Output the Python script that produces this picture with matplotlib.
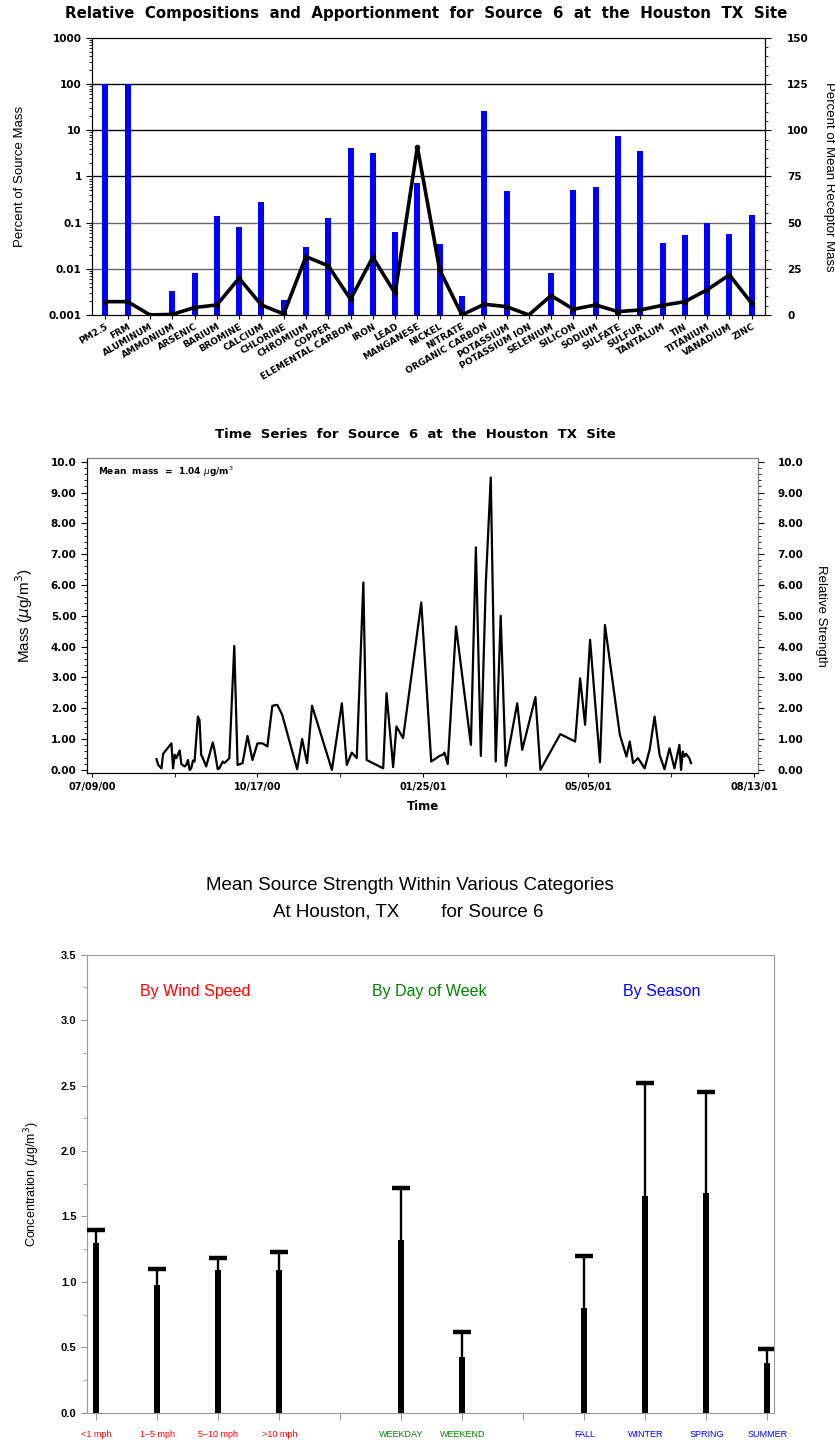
import numpy as np
import pandas as pd
import matplotlib
matplotlib.use('Agg')
import matplotlib.pyplot as plt
from matplotlib.ticker import MultipleLocator, LogLocator, NullFormatter, FuncFormatter, FixedLocator

# ---- panel 1: source profile ----
species = ['PM2.5', 'FRM', 'ALUMINUM', 'AMMONIUM', 'ARSENIC', 'BARIUM', 'BROMINE',
           'CALCIUM', 'CHLORINE', 'CHROMIUM', 'COPPER', 'ELEMENTAL CARBON', 'IRON',
           'LEAD', 'MANGANESE', 'NICKEL', 'NITRATE', 'ORGANIC CARBON', 'POTASSIUM',
           'POTASSIUM ION', 'SELENIUM', 'SILICON', 'SODIUM', 'SULFATE', 'SULFUR',
           'TANTALUM', 'TIN', 'TITANIUM', 'VANADIUM', 'ZINC']
pct_source_mass = [100, 100, 0, 0.0023, 0.0073, 0.135, 0.078, 0.285, 0.0011, 0.028,
                   0.128, 4.07, 3.2, 0.062, 0.73, 0.033, 0.0016, 25.9, 0.49, 0,
                   0.0071, 0.51, 0.60, 7.5, 3.57, 0.036, 0.054, 0.097, 0.057, 0.147]
pct_receptor_mass = [7.2, 7.2, 0, 0.3, 4.0, 5.4, 19.9, 5.4, 0.5, 31.6,
                     26.6, 8.5, 31.3, 11.7, 90.9, 24.4, 0, 5.8, 4.5, 0,
                     10.5, 3.1, 5.4, 1.8, 2.7, 5.2, 7.2, 13.6, 21.7, 6.3]

# ---- panel 2: time series ----
ts_dates = ['2000-08-17', '2000-08-18', '2000-08-20', '2000-08-21', '2000-08-26', '2000-08-27',
            '2000-08-28', '2000-08-29', '2000-08-31', '2000-09-01', '2000-09-03', '2000-09-04',
            '2000-09-05', '2000-09-06', '2000-09-07', '2000-09-08', '2000-09-09', '2000-09-11',
            '2000-09-12', '2000-09-13', '2000-09-14', '2000-09-16', '2000-09-18', '2000-09-20',
            '2000-09-21', '2000-09-23', '2000-09-24', '2000-09-26', '2000-09-27', '2000-09-29',
            '2000-09-30', '2000-10-03', '2000-10-05', '2000-10-08', '2000-10-11', '2000-10-14',
            '2000-10-17', '2000-10-20', '2000-10-23', '2000-10-26', '2000-10-29', '2000-11-01',
            '2000-11-10', '2000-11-13', '2000-11-16', '2000-11-19', '2000-12-01', '2000-12-07',
            '2000-12-10', '2000-12-13', '2000-12-16', '2000-12-20', '2000-12-22', '2001-01-01',
            '2001-01-03', '2001-01-07', '2001-01-09', '2001-01-13', '2001-01-24', '2001-01-30',
            '2001-02-04', '2001-02-06', '2001-02-07', '2001-02-09', '2001-02-14', '2001-02-23',
            '2001-02-26', '2001-03-01', '2001-03-04', '2001-03-07', '2001-03-10', '2001-03-13',
            '2001-03-16', '2001-03-23', '2001-03-26', '2001-04-03', '2001-04-06', '2001-04-18',
            '2001-04-27', '2001-04-30', '2001-05-03', '2001-05-06', '2001-05-12', '2001-05-15',
            '2001-05-24', '2001-05-28', '2001-05-30', '2001-06-01', '2001-06-04', '2001-06-08',
            '2001-06-11', '2001-06-14', '2001-06-17', '2001-06-20', '2001-06-23', '2001-06-26',
            '2001-06-29', '2001-06-30', '2001-07-01', '2001-07-02', '2001-07-03', '2001-07-05',
            '2001-07-06']
ts_mass = [0.35, 0.16, 0.05, 0.52, 0.86, 0.05, 0.49, 0.38, 0.63, 0.19, 0.11, 0.16,
           0.32, 0.0, 0.05, 0.30, 0.27, 1.73, 1.62, 0.49, 0.38, 0.11, 0.49, 0.89,
           0.65, 0.02, 0.05, 0.27, 0.22, 0.32, 0.38, 4.02, 0.16, 0.22, 1.10, 0.32,
           0.86, 0.86, 0.76, 2.08, 2.11, 1.78, 0.02, 1.0, 0.22, 2.08, 0.0, 2.16,
           0.16, 0.56, 0.38, 6.08, 0.32, 0.05, 2.49, 0.09, 1.41, 1.03, 5.43, 0.27,
           0.45, 0.49, 0.56, 0.19, 4.65, 0.81, 7.22, 0.45, 6.05, 9.49, 0.27, 5.0,
           0.13, 2.16, 0.65, 2.36, 0.0, 1.16, 0.92, 2.97, 1.46, 4.22, 0.25, 4.70,
           1.14, 0.43, 0.92, 0.22, 0.38, 0.05, 0.65, 1.73, 0.49, 0.02, 0.70, 0.05,
           0.81, 0.0, 0.59, 0.43, 0.52, 0.38, 0.22]
mean_mass = 1.04
ts_tick_dates = ['2000-07-09', '2000-10-17', '2001-01-25', '2001-05-05', '2001-08-13']

# ---- panel 3: category means ----
wind_labels = ['<1 mph', '1\u20135 mph', '5\u201310 mph', '>10 mph']
wind_mean = [1.30, 0.98, 1.09, 1.09]
wind_upper = [1.40, 1.10, 1.18, 1.23]
dow_labels = ['WEEKDAY', 'WEEKEND']
dow_mean = [1.32, 0.43]
dow_upper = [1.72, 0.62]
season_labels = ['FALL', 'WINTER', 'SPRING', 'SUMMER']
season_mean = [0.80, 1.66, 1.68, 0.38]
season_upper = [1.20, 2.52, 2.45, 0.49]

BOLD = dict(family='DejaVu Sans', weight='bold')
NARROW = 'Liberation Sans'

fig = plt.figure(figsize=(8.35, 14.48), dpi=100)

# =============== top panel ===============
ax = fig.add_axes([0.1102, 0.7825, 0.806, 0.1913])
x = np.arange(len(species))
src = np.array(pct_source_mass, dtype=float)
keep = src > 0
ax.set_yscale('log')
ax.set_ylim(1e-3, 1e3)
ax.set_xlim(-0.6, len(species) - 0.4)
for v, c in zip([1e2, 1e1, 1e0, 1e-1, 1e-2], ['black', 'black', 'black', '0.4', '0.4']):
    ax.axhline(v, color=c, lw=1, zorder=1)
ax.bar(x[keep], src[keep], width=0.27, color='#0000ff', zorder=2, bottom=1e-3)
ax.set_yticks([1e-3, 1e-2, 1e-1, 1, 10, 100, 1000])
ax.set_yticklabels(['0.001', '0.01', '0.1', '1', '10', '100', '1000'], fontsize=7.5, **BOLD)
ax.yaxis.set_minor_locator(LogLocator(base=10, subs=np.arange(2, 10)))
ax.yaxis.set_minor_formatter(NullFormatter())
ax.set_xticks(x)
ax.set_xticklabels(species, rotation=30, ha='right', va='top', rotation_mode='anchor',
                   fontsize=6.5, **BOLD)
ax.tick_params(axis='x', length=3, pad=2)
ax.tick_params(axis='y', which='major', length=4, direction='out')
ax.tick_params(axis='y', which='minor', length=2, direction='out')
ax.set_ylabel('Percent of Source Mass', family=NARROW, fontsize=9.5, labelpad=16)

ax2 = ax.twinx()
ax2.plot(x, pct_receptor_mass, color='black', lw=2.6, marker='o', ms=3,
         solid_joinstyle='round', zorder=3)
ax2.set_ylim(0, 150)
ax2.set_yticks(np.arange(0, 151, 25))
ax2.set_yticklabels([str(v) for v in range(0, 151, 25)], fontsize=7.5, **BOLD)
ax2.yaxis.set_minor_locator(MultipleLocator(5))
ax2.tick_params(axis='y', which='major', length=4, pad=12)
ax2.tick_params(axis='y', which='minor', length=2)
ax2.set_ylabel('Percent of Mean Receptor Mass', family=NARROW, fontsize=9.5,
               rotation=270, labelpad=19)
fig.text(0.51, 0.9905, 'Relative  Compositions  and  Apportionment  for  Source  6  at  the  Houston  TX  Site',
         ha='center', va='center', fontsize=10.8, **BOLD)

# =============== middle panel ===============
axm = fig.add_axes([0.1042, 0.4662, 0.8036, 0.2175])
dates = pd.to_datetime(ts_dates)
axm.plot(dates, ts_mass, color='black', lw=1.6)
tick_dates = pd.to_datetime(ts_tick_dates)
axm.set_xlim(tick_dates[0] - pd.Timedelta(days=3), tick_dates[-1] + pd.Timedelta(days=2.5))
axm.set_ylim(-0.1, 10.12)
axm.set_xticks(tick_dates)
axm.set_xticklabels([d.strftime('%m/%d/%y') for d in tick_dates], fontsize=7, **BOLD)
axm.xaxis.set_minor_locator(FixedLocator(
    [matplotlib.dates.date2num(d + pd.Timedelta(days=50)) for d in tick_dates[:-1]]))
yfmt = FuncFormatter(lambda v, p: '10.0' if v >= 10 else '%.2f' % v)
axm.set_yticks(np.arange(0, 10.01, 1))
axm.yaxis.set_major_formatter(yfmt)
axm.yaxis.set_minor_locator(MultipleLocator(0.2))
for lab in axm.get_yticklabels():
    lab.set_fontsize(7.5)
    lab.set_fontweight('bold')
    lab.set_family('DejaVu Sans')
axm.tick_params(axis='y', which='major', length=4)
axm.tick_params(axis='y', which='minor', length=2)
axm.tick_params(axis='x', which='both', length=3)
for s in ['top', 'right']:
    axm.spines[s].set_color('0.5')
axm.set_ylabel('Mass ($\\mu$g/m$^3$)', family=NARROW, fontsize=11, labelpad=11)
axm.set_xlabel('Time', fontsize=8.5, labelpad=6, **BOLD)
axm.text(0.017, 0.955, 'Mean  mass  =  %.2f $\\mu$g/m$^3$' % mean_mass, transform=axm.transAxes,
         fontsize=6.5, va='center', ha='left', **BOLD)

axm2 = axm.twinx()
axm2.set_ylim(axm.get_ylim())
axm2.set_yticks(np.arange(0, 10.01, 1))
axm2.yaxis.set_major_formatter(yfmt)
axm2.yaxis.set_minor_locator(MultipleLocator(0.2))
for lab in axm2.get_yticklabels():
    lab.set_fontsize(7.5)
    lab.set_fontweight('bold')
    lab.set_family('DejaVu Sans')
axm2.tick_params(axis='y', which='major', length=4, pad=10)
axm2.tick_params(axis='y', which='minor', length=2)
axm2.spines['right'].set_color('0.5')
axm2.spines['top'].set_color('0.5')
axm2.set_ylabel('Relative Strength', family=NARROW, fontsize=9.5, rotation=270, labelpad=17)
fig.text(0.497, 0.6996, 'Time  Series  for  Source  6  at  the  Houston  TX  Site',
         ha='center', va='center', fontsize=9.5, **BOLD)

# =============== bottom panel ===============
axb = fig.add_axes([0.1042, 0.0242, 0.8228, 0.3166])
groups = [(wind_labels, wind_mean, wind_upper, 'red', 'By Wind Speed', 2.62),
          (dow_labels, dow_mean, dow_upper, 'green', 'By Day of Week', 6.46),
          (season_labels, season_mean, season_upper, 'blue', 'By Season', 10.27)]
pos, means, uppers = [], [], []
tick_pos, tick_lab, tick_col = [], [], []
p = 1
for gi, (lbls, m, u, col, head, hx) in enumerate(groups):
    for l, mv, uv in zip(lbls, m, u):
        pos.append(p)
        means.append(mv)
        uppers.append(uv)
        tick_pos.append(p)
        tick_lab.append(l)
        tick_col.append(col)
        p += 1
    if gi < len(groups) - 1:
        tick_pos.append(p)
        tick_lab.append('')
        tick_col.append('black')
        p += 1
    axb.text(hx, 3.22, head, color=col, ha='center', va='center', family=NARROW, fontsize=11.5)
pos = np.array(pos)
means = np.array(means)
uppers = np.array(uppers)
axb.bar(pos, means, width=0.1, color='black', zorder=2)
# upper error only: stem plus a single cap
axb.vlines(pos, means, uppers, color='black', lw=1.7, zorder=3)
axb.hlines(uppers, pos - 0.15, pos + 0.15, color='black', lw=3.2, zorder=3)
axb.set_xlim(0.85, 12.11)
axb.set_ylim(0, 3.5)
axb.set_xticks(tick_pos)
axb.set_xticklabels(tick_lab, fontsize=6.5, family='Liberation Sans')
for lab, c in zip(axb.get_xticklabels(), tick_col):
    lab.set_color(c)
axb.set_yticks(np.arange(0, 3.51, 0.5))
axb.set_yticklabels(['%.1f' % v for v in np.arange(0, 3.51, 0.5)], fontsize=8,
                    family='Liberation Sans', weight='bold')
axb.yaxis.set_minor_locator(MultipleLocator(0.25))
axb.tick_params(axis='both', which='both', color='0.6')
axb.tick_params(axis='x', length=5, pad=7)
axb.tick_params(axis='y', which='major', length=4)
axb.tick_params(axis='y', which='minor', length=3)
for s in axb.spines.values():
    s.set_color('0.6')
axb.set_ylabel('Concentration ($\\mu$g/m$^3$)', fontsize=9, family='Liberation Sans', labelpad=14)
fig.text(0.491, 0.3888, 'Mean Source Strength Within Various Categories', ha='center',
         va='center', family=NARROW, fontsize=13.5)
fig.text(0.489, 0.3703, 'At Houston, TX        for Source 6', ha='center',
         va='center', family=NARROW, fontsize=13.5)

fig.savefig('out.png', dpi=100)
